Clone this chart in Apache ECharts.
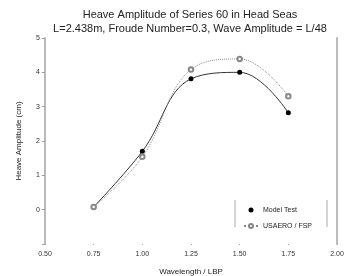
<!DOCTYPE html>
<html>
<head>
    <title>Heave Amplitude</title>
    <script type="text/javascript" src="https://cdn.jsdelivr.net/npm/echarts@6/dist/echarts.min.js"></script>
</head>
<body style="margin:0">
<div id="main" style="width: 352px;height:276px;"></div>
<script type="text/javascript">
    // data
    var wavelength = [0.75, 1.00, 1.25, 1.50, 1.75];
    var modelTest = [0.08, 1.70, 3.81, 4.00, 2.82];
    var usaero = [0.08, 1.54, 4.08, 4.39, 3.30];
    var xTicks = [0.50, 0.75, 1.00, 1.25, 1.50, 1.75, 2.00];
    var yTicks = [0, 1, 2, 3, 4, 5];

    function pairs(xs, ys) {
        return xs.map(function (x, i) { return [x, ys[i]]; });
    }

    var myChart = echarts.init(document.getElementById('main'));
    var font = 'Liberation Sans';

    var option = {
        animation: false,
        title: {
            text: 'Heave Amplitude of Series 60 in Head Seas\nL=2.438m, Froude Number=0.3, Wave Amplitude = L/48',
            left: 185,
            textAlign: 'center',
            top: 3,
            textStyle: {
                fontFamily: font, fontSize: 11, fontWeight: 'normal',
                color: '#222', lineHeight: 14
            }
        },
        grid: { left: 45, right: 15, top: 38, bottom: 32, outerBoundsMode: 'none', containLabel: false },
        legend: {
            data: [
                { name: 'Model Test', icon: 'circle' },
                { name: 'USAERO / FSP' }
            ],
            orient: 'vertical',
            left: 238,
            top: 199,
            itemWidth: 14,
            itemHeight: 5,
            itemGap: 4,
            textStyle: { fontFamily: font, fontSize: 7, color: '#222' }
        },
        xAxis: {
            type: 'value',
            min: 0.5,
            max: 2.0,
            interval: 0.25,
            name: 'Wavelength / LBP',
            nameLocation: 'middle',
            nameGap: 16,
            nameTextStyle: { fontFamily: font, fontSize: 8, color: '#222' },
            axisLine: { show: false, onZero: false },
            axisTick: { show: true, inside: false, length: 1, lineStyle: { color: '#aaa' } },
            axisLabel: {
                fontFamily: font, fontSize: 7, color: '#333', margin: 4,
                formatter: function (v) { return xTicks.indexOf(v) >= 0 ? v.toFixed(2) : ''; }
            },
            splitLine: { show: false }
        },
        yAxis: [{
            type: 'value',
            min: -1,
            max: 5,
            interval: 1,
            name: 'Heave Amplitude (cm)',
            nameLocation: 'middle',
            nameGap: 14,
            nameTextStyle: { fontFamily: font, fontSize: 8, color: '#222' },
            axisLine: { show: true, lineStyle: { color: '#bbb', width: 2 } },
            axisTick: { show: true, length: 3, lineStyle: { color: '#999' } },
            axisLabel: {
                fontFamily: font, fontSize: 7, color: '#333', margin: 5,
                formatter: function (v) { return yTicks.indexOf(v) >= 0 ? String(v) : ''; }
            },
            splitLine: { show: false }
        }, {
            type: 'value',
            position: 'right',
            min: -1,
            max: 5,
            axisLine: { show: true, lineStyle: { color: '#bbb', width: 2 } },
            axisTick: { show: false },
            axisLabel: { show: false },
            splitLine: { show: false }
        }],
        graphic: [
            { type: 'line', shape: { x1: 235, y1: 200, x2: 235, y2: 227 }, style: { stroke: '#aaa', lineWidth: 1 } },
            { type: 'line', shape: { x1: 327, y1: 200, x2: 327, y2: 227 }, style: { stroke: '#aaa', lineWidth: 1 } }
        ],
        series: [{
            name: 'Model Test',
            type: 'line',
            smooth: 0.4,
            z: 2,
            data: pairs(wavelength, modelTest),
            symbol: 'circle',
            symbolSize: 5,
            itemStyle: { color: '#000' },
            lineStyle: { color: '#333', width: 1 }
        }, {
            name: 'USAERO / FSP',
            type: 'line',
            smooth: 0.4,
            z: 3,
            data: pairs(wavelength, usaero),
            symbol: 'emptyCircle',
            symbolSize: 4.5,
            itemStyle: { color: '#888', borderWidth: 0.8 },
            lineStyle: { color: '#888', width: 1, type: 'dotted' }
        }]
    };

    myChart.setOption(option);
</script>
</body>
</html>
